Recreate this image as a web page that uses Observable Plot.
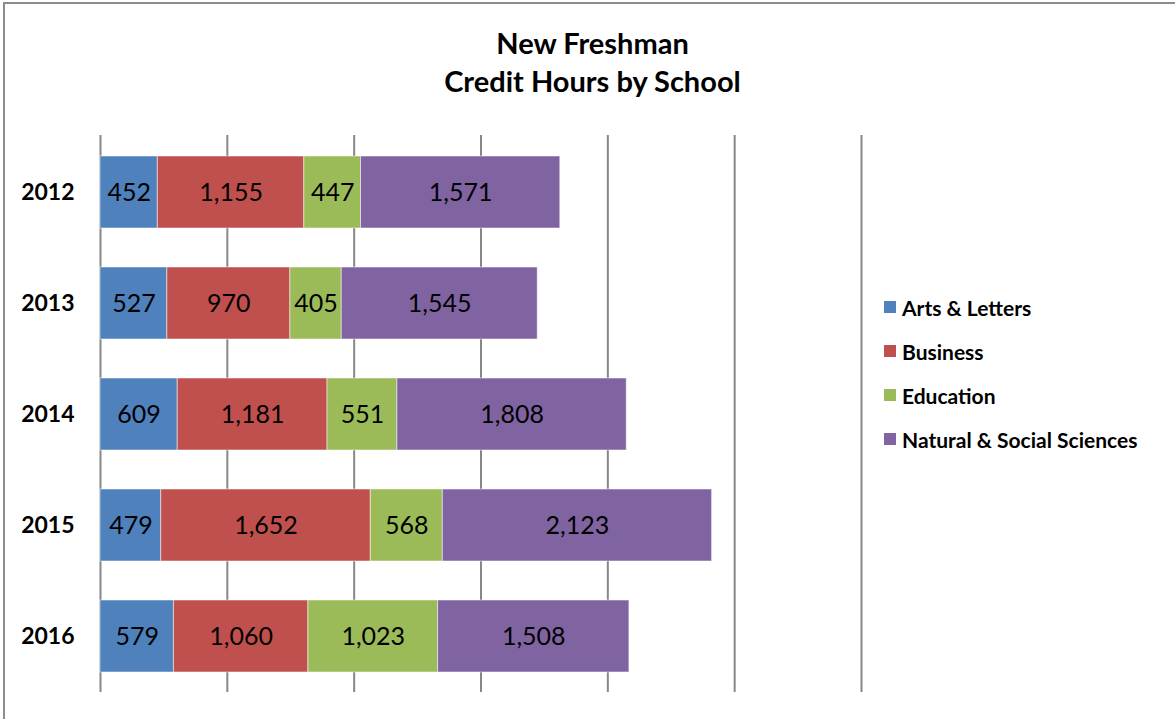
<!DOCTYPE html>
<html>
<head>
<meta charset="utf-8">
<script src="https://cdn.jsdelivr.net/npm/d3@7"></script>
<script src="https://cdn.jsdelivr.net/npm/@observablehq/plot@0.6"></script>
<style>
  html, body { margin: 0; padding: 0; background: #fff; }
  body { width: 1175px; height: 719px; position: relative; overflow: hidden; font-family: Lato, "Open Sans", sans-serif; }
  #frame { position: absolute; left: 3px; top: 2px; width: 1200px; height: 740px; border-left: 2px solid #8c8c8c; border-top: 2px solid #8c8c8c; }
  #title { position: absolute; left: 10px; width: 1165px; top: 24px; text-align: center; font-weight: 700; font-size: 29px; line-height: 38px; color: #000; }
  #chart { position: absolute; left: 0; top: 0; }
  #legend { position: absolute; left: 884px; top: 285px; }
  .item { display: flex; align-items: center; height: 44px; font-weight: 700; font-size: 21px; color: #000; }
  .sw { width: 12px; height: 12px; margin-right: 6px; }
</style>
</head>
<body>
<div id="frame"></div>
<div id="title">New Freshman<br>Credit Hours by School</div>
<div id="chart"></div>
<div id="legend"></div>
<script>
const years = ["2012", "2013", "2014", "2015", "2016"];
const schools = ["Arts & Letters", "Business", "Education", "Natural & Social Sciences"];
const colors = ["#4F81BD", "#C0504D", "#9BBB59", "#8064A2"];
const artsLetters = [452, 527, 609, 479, 579];
const business = [1155, 970, 1181, 1652, 1060];
const education = [447, 405, 551, 568, 1023];
const naturalSocial = [1571, 1545, 1808, 2123, 1508];
const gridTicks = [0, 1000, 2000, 3000, 4000, 5000, 6000];

const series = [artsLetters, business, education, naturalSocial];
const data = [];
years.forEach((y, i) => {
  schools.forEach((s, j) => data.push({year: y, school: s, value: series[j][i]}));
});
const fmt = d3.format(",");

const chart = Plot.plot({
  width: 1175,
  height: 719,
  marginLeft: 100,
  marginRight: 314,
  marginTop: 135,
  marginBottom: 27,
  style: {fontFamily: "Lato, 'Open Sans', sans-serif", background: "transparent"},
  x: {domain: [0, 6000], axis: null},
  y: {domain: years, paddingInner: 0.354, paddingOuter: 0.177, label: null, tickSize: 0, tickPadding: 26},
  color: {domain: schools, range: colors},
  marks: [
    Plot.ruleX(gridTicks, {stroke: "#878787", strokeWidth: 2}),
    Plot.barX(data, Plot.stackX({x: "value", y: "year", fill: "school", order: schools, stroke: "#ffffff", strokeOpacity: 0.5, strokeWidth: 1})),
    Plot.text(data, Plot.stackX({x: "value", y: "year", z: "school", order: schools, text: d => fmt(d.value), fill: "#000", fontSize: 25})),
    Plot.axisY({tickSize: 0, tickPadding: 26, fontSize: 23, fontWeight: 700, fill: "#000", label: null})
  ]
});
document.getElementById("chart").appendChild(chart);
chart.querySelectorAll("[aria-label='y-axis tick label'] text, [aria-label='y-axis tick label']").forEach(e => { e.setAttribute("font-weight", "700"); e.setAttribute("font-size", "23"); });

const legend = document.getElementById("legend");
schools.forEach((s, j) => {
  const it = document.createElement("div");
  it.className = "item";
  const sw = document.createElement("div");
  sw.className = "sw";
  sw.style.background = colors[j];
  const t = document.createElement("span");
  t.textContent = s;
  it.appendChild(sw);
  it.appendChild(t);
  legend.appendChild(it);
});
</script>
</body>
</html>
